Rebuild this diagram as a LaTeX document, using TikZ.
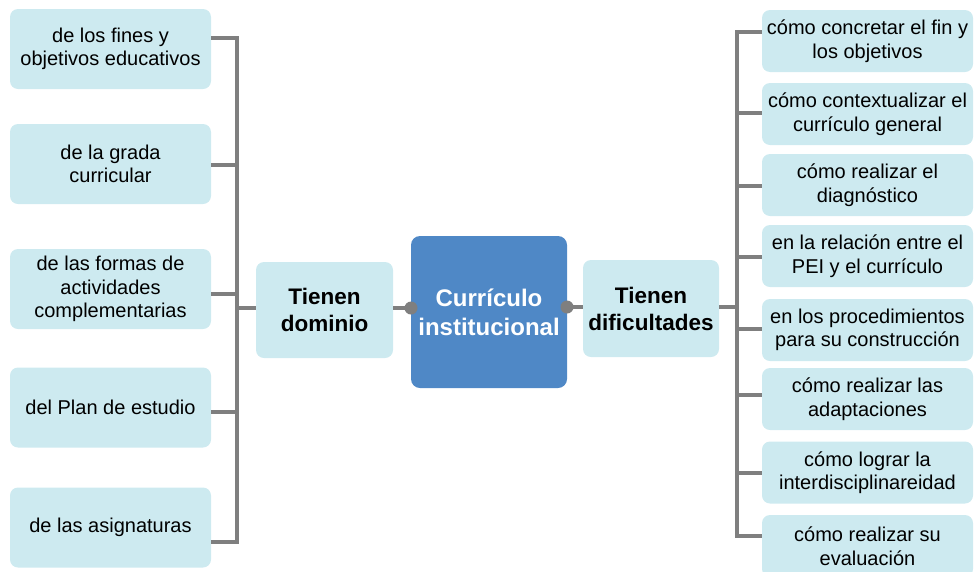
\documentclass[tikz,border=0pt]{standalone}
\usepackage{fontspec}
\setmainfont{Liberation Sans}
\definecolor{boxfill}{HTML}{CDEAF0}
\definecolor{mainfill}{HTML}{4F88C6}
\definecolor{conncol}{HTML}{7F7F7F}
\begin{document}
\begin{tikzpicture}[x=1pt,y=-1pt,
  leaf/.style={draw=none,fill=boxfill,rounded corners=8pt,inner sep=0pt,align=center,
    font=\fontsize{20}{23.5}\selectfont},
  lleaf/.style={leaf,minimum width=201pt,minimum height=80pt},
  rleaf/.style={leaf,minimum width=211pt,minimum height=62pt},
  mid/.style={draw=none,fill=boxfill,rounded corners=8pt,inner sep=0pt,align=center,
    font=\fontsize{22.5}{27}\selectfont\bfseries},
  core/.style={draw=none,fill=mainfill,rounded corners=9pt,inner sep=0pt,align=center,
    text=white,font=\fontsize{24}{29}\selectfont\bfseries},
  conn/.style={draw=conncol,line width=4pt},
  dot/.style={circle,fill=conncol,inner sep=0pt,minimum size=13pt}]
\useasboundingbox (0,0) rectangle (974,571);

% left leaves
\node[lleaf] (L1) at (110.5,49) {de los fines y\\objetivos educativos};
\node[lleaf] (L2) at (110.5,164) {de la grada\\curricular};
\node[lleaf] (L3) at (110.5,289) {de las formas de\\actividades\\complementarias};
\node[lleaf] (L4) at (110.5,407.5) {del Plan de estudio};
\node[lleaf] (L5) at (110.5,527.5) {de las asignaturas};

% middle
\node[mid,minimum width=137pt,minimum height=96pt] (TD) at (324.5,310) {Tienen\\dominio};
\node[core,minimum width=156pt,minimum height=152pt] (CI) at (489,312) {Currículo\\institucional};
\node[mid,minimum width=136pt,minimum height=97pt] (TF) at (651,308.5) {Tienen\\dificultades};

% right leaves
\node[rleaf] (R1) at (867.5,41) {cómo concretar el fin y\\los objetivos};
\node[rleaf] (R2) at (867.5,114) {cómo contextualizar el\\currículo general};
\node[rleaf] (R3) at (867.5,185) {cómo realizar el\\diagnóstico};
\node[rleaf] (R4) at (867.5,256) {en la relación entre el\\PEI y el currículo};
\node[rleaf] (R5) at (867.5,330) {en los procedimientos\\para su construcción};
\node[rleaf] (R6) at (867.5,399) {cómo realizar las\\adaptaciones};
\node[rleaf] (R7) at (867.5,472.5) {cómo lograr la\\interdisciplinareidad};
\node[rleaf] (R8) at (867.5,546) {cómo realizar su\\evaluación};

% bus junctions
\coordinate (lj1) at (237,38);
\coordinate (lj2) at (237,165);
\coordinate (lj3) at (237,294);
\coordinate (lj4) at (237,412);
\coordinate (lj5) at (237,542);
\coordinate (rj1) at (737,32);
\coordinate (rj2) at (737,113);
\coordinate (rj3) at (737,186);
\coordinate (rj4) at (737,257);
\coordinate (rj5) at (737,329);
\coordinate (rj6) at (737,395);
\coordinate (rj7) at (737,473);
\coordinate (rj8) at (737,536);

% left connectors
\draw[conn] (L1.east |- lj1) -- (lj1);
\draw[conn] (L2.east |- lj2) -- (lj2);
\draw[conn] (L3.east |- lj3) -- (lj3);
\draw[conn] (L4.east |- lj4) -- (lj4);
\draw[conn] (L5.east |- lj5) -- (lj5);
\draw[conn,line cap=rect] (lj1) -- (lj5);
\coordinate (ltd) at (237,308);
\draw[conn] (ltd) -- (TD.west |- ltd);

% right connectors
\draw[conn] (R1.west |- rj1) -- (rj1);
\draw[conn] (R2.west |- rj2) -- (rj2);
\draw[conn] (R3.west |- rj3) -- (rj3);
\draw[conn] (R4.west |- rj4) -- (rj4);
\draw[conn] (R5.west |- rj5) -- (rj5);
\draw[conn] (R6.west |- rj6) -- (rj6);
\draw[conn] (R7.west |- rj7) -- (rj7);
\draw[conn] (R8.west |- rj8) -- (rj8);
\draw[conn,line cap=rect] (rj1) -- (rj8);
\coordinate (rtf) at (737,307);
\draw[conn] (TF.east |- rtf) -- (rtf);

% centre links
\coordinate (cl) at (411,308);
\coordinate (cr) at (567,307);
\draw[conn] (TD.east |- cl) -- (cl);
\draw[conn] (cr) -- (TF.west |- cr);
\node[dot] (dl) at (cl) {};
\node[dot] (dr) at (cr) {};
\end{tikzpicture}
\end{document}
